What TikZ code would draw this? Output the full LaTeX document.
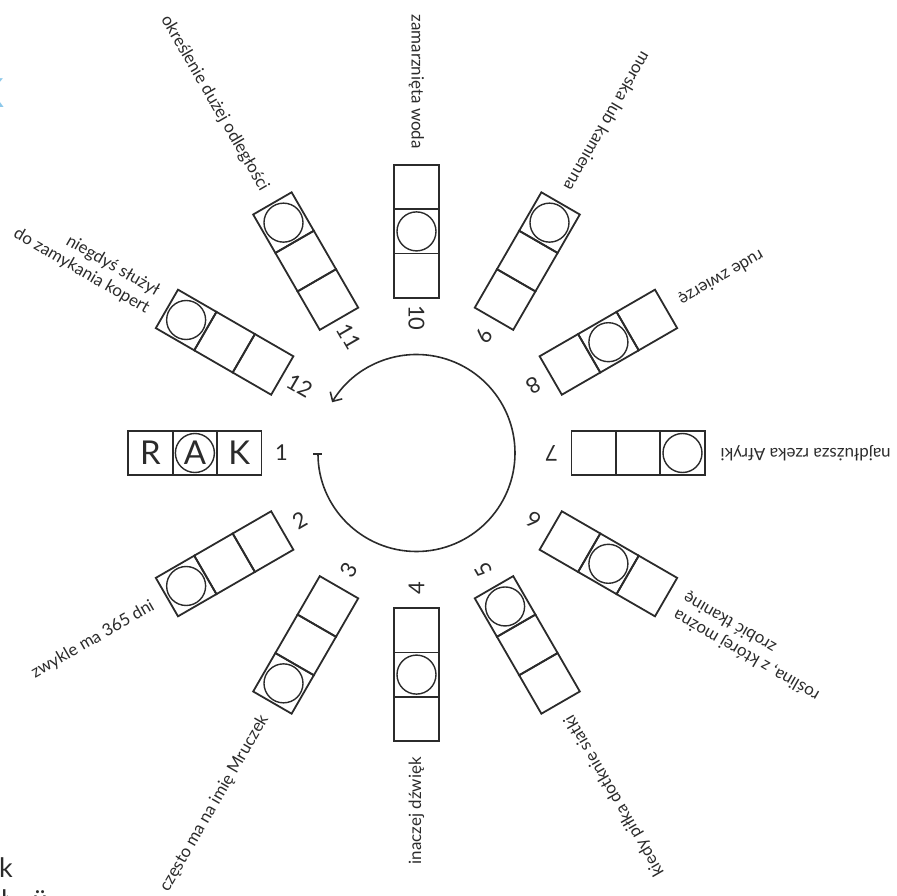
\documentclass[tikz,border=0pt]{standalone}
\usepackage{fontspec}
\setmainfont{Lato}
\usetikzlibrary{arrows.meta}
\definecolor{ink}{HTML}{2B2B2B}
\definecolor{sky}{HTML}{8CC8EA}

\begin{document}
\begin{tikzpicture}[x=1bp,y=1bp,>={Straight Barb[length=7bp,width=14bp]},every node/.style={font=\fontsize{17}{20}\selectfont,text=ink},
  cell/.style={draw=ink,line width=1.8bp,minimum size=44.4bp,inner sep=0pt},
  ring/.style={draw=ink,line width=1.4bp,circle,minimum size=39bp,inner sep=0pt},
  num/.style={font=\fontsize{22}{22}\selectfont},
  clue/.style={align=right,anchor=east,inner sep=0pt}]
\useasboundingbox (-416.5,-443) rectangle (480.5,453);
% example word
\foreach \i/\ch in {1/K,2/A,3/R} {
  \node[cell] (c1-\i) at (180:{155+44.4*(\i-0.5)}) {};
  \node[font=\fontsize{33}{33}\selectfont] (l1-\i) at (c1-\i) {\ch};
}
\node[ring] (r1) at (c1-2) {};
\node[num] (n1) at (180:135) {1};
% the other eleven words
\foreach \k/\c/\txt in {2/3/zwykle ma 365 dni,3/3/często ma na imię Mruczek,4/2/inaczej dźwięk,5/1/kiedy piłka dotknie siatki,
  6/2/{roślina, z której można\\zrobić tkaninę},7/3/najdłuższa rzeka Afryki,8/2/rude zwierzę,9/3/morska lub kamienna,
  10/2/zamarznięta woda,11/3/określenie dużej odległości,12/3/{niegdyś służył\\do zamykania kopert}} {
  \pgfmathsetmacro\a{180+30*(\k-1)}
  \foreach \i in {1,2,3}
    \node[cell,rotate=\a-180] (c\k-\i) at (\a:{155+44.4*(\i-0.5)}) {};
  \node[ring] (r\k) at (c\k-\c) {};
  \node[num,rotate=\a-180] (n\k) at (\a:135) {\k};
  \node[clue,rotate=\a-180] (q\k) at (\a:304) {\txt};
}
\draw[draw=ink,line width=1.6bp,{Bar[width=9bp]}->] (180:98.5) arc[start angle=180,end angle=509,radius=98.5bp];
% cut-off letters at the edge
\node[text=sky,font=\fontsize{40}{40}\selectfont\bfseries,anchor=base east,inner sep=0pt] (frag1) at (-412,345) {K};
\node[font=\fontsize{27}{27}\selectfont,anchor=base west,inner sep=0pt] (frag2) at (-417.5,-424) {k};
\node[font=\fontsize{27}{27}\selectfont,anchor=base west,inner sep=0pt] (frag3) at (-416.5,-456) {ł};
\node[font=\fontsize{27}{27}\selectfont,anchor=base west,inner sep=0pt] (frag4) at (-384,-456) {ü};
\end{tikzpicture}
\end{document}
